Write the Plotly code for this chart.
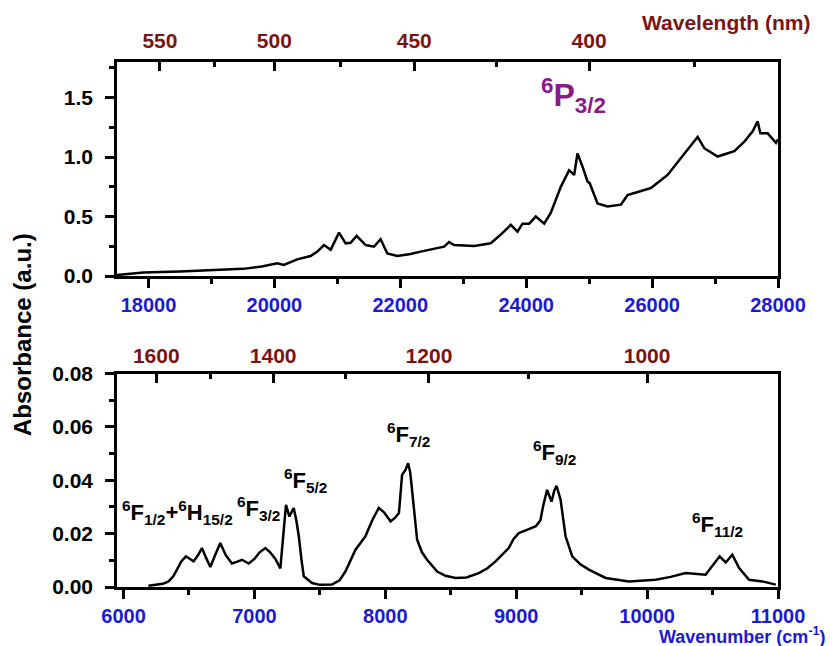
import plotly.graph_objects as go

# ---------------- data ----------------
# Top panel: UV-Vis region (wavenumber cm^-1, absorbance a.u.)
vis_wn = [17500, 17920, 18500, 19000, 19500, 19800, 20046, 20150, 20363, 20575, 20682,
          20788, 20894, 21026, 21132, 21211, 21307, 21450, 21582, 21688, 21794,
          21953, 22165, 22324, 22695, 22775, 22854, 23172, 23437, 23600, 23755,
          23862, 23941, 24047, 24153, 24286, 24390, 24550, 24682, 24762, 24815,
          24895, 24974, 25010, 25133, 25292, 25504, 25610, 25981, 26246, 26511,
          26723, 26829, 27041, 27306, 27465, 27600, 27677, 27720, 27836, 27968, 28000]
vis_abs = [0.008, 0.030, 0.038, 0.047, 0.060, 0.080, 0.107, 0.093, 0.140, 0.168, 0.205,
           0.260, 0.220, 0.365, 0.275, 0.280, 0.337, 0.260, 0.247, 0.310, 0.190,
           0.168, 0.185, 0.205, 0.247, 0.286, 0.260, 0.253, 0.275, 0.350, 0.430,
           0.373, 0.440, 0.440, 0.500, 0.440, 0.530, 0.750, 0.890, 0.850, 1.030,
           0.920, 0.795, 0.780, 0.610, 0.585, 0.600, 0.680, 0.740, 0.850, 1.030,
           1.170, 1.075, 1.005, 1.050, 1.130, 1.220, 1.300, 1.200, 1.200, 1.120, 1.150]

# Bottom panel: NIR region
nir_wn = [6190, 6250, 6300, 6344, 6380, 6408, 6440, 6476, 6505, 6535, 6570, 6599, 6630,
          6663, 6700, 6739, 6780, 6828, 6870, 6905, 6956, 7000, 7040, 7083, 7120, 7160,
          7198, 7220, 7241, 7267, 7300, 7320, 7339, 7360, 7377, 7440, 7500, 7593, 7650,
          7695, 7730, 7772, 7810, 7848, 7900, 7950, 7990, 8040, 8075, 8104, 8128, 8154,
          8174, 8190, 8204, 8225, 8243, 8280, 8319, 8396, 8460, 8536, 8620, 8714, 8780,
          8842, 8943, 8980, 9020, 9096, 9150, 9185, 9205, 9236, 9255, 9270, 9290, 9308,
          9339, 9360, 9377, 9428, 9490, 9555, 9683, 9861, 10065, 10180, 10294, 10447,
          10498, 10554, 10600, 10651, 10703, 10779, 10881, 10983]
nir_abs = [0.0005, 0.0009, 0.0012, 0.0021, 0.0040, 0.0065, 0.0095, 0.0115, 0.0105, 0.0096,
           0.0120, 0.0146, 0.0110, 0.0075, 0.0120, 0.0165, 0.0120, 0.0088, 0.0095, 0.0102,
           0.0088, 0.0105, 0.0130, 0.0146, 0.0130, 0.0105, 0.0070, 0.0200, 0.0308, 0.0264,
           0.0296, 0.0250, 0.0190, 0.0100, 0.0040, 0.0015, 0.0008, 0.0009, 0.0025, 0.0058,
           0.0095, 0.0140, 0.0165, 0.0190, 0.0250, 0.0296, 0.0280, 0.0246, 0.0260, 0.0277,
           0.0420, 0.0439, 0.0464, 0.0430, 0.0364, 0.0260, 0.0177, 0.0130, 0.0102, 0.0058,
           0.0042, 0.0034, 0.0036, 0.0052, 0.0070, 0.0096, 0.0146, 0.0180, 0.0202, 0.0217,
           0.0228, 0.0250, 0.0302, 0.0364, 0.0340, 0.0320, 0.0360, 0.0379, 0.0327, 0.0250,
           0.0190, 0.0115, 0.0085, 0.0065, 0.0034, 0.0021, 0.0027, 0.0038, 0.0052, 0.0046,
           0.0077, 0.0115, 0.0092, 0.0121, 0.0071, 0.0027, 0.0021, 0.0009]

# tick labels
top_wn_ticks = [18000, 20000, 22000, 24000, 26000, 28000]
bot_wn_ticks = [6000, 7000, 8000, 9000, 10000, 11000]
top_wl_major = [550, 500, 450, 400]
top_wl_minor = [525, 475, 425, 375]
bot_wl_major = [1600, 1400, 1200, 1000]
bot_wl_minor = [1500, 1300, 1100]
top_abs_ticks = [0, 0.5, 1.0, 1.5]
bot_abs_ticks = [0, 0.02, 0.04, 0.06, 0.08]

# band labels
vis_labels = [("<sup>6</sup>P<sub>3/2</sub>", 24752, 1.52)]
nir_labels = [("<sup>6</sup>F<sub>1/2</sub>+<sup>6</sup>H<sub>15/2</sub>", 6413, 0.0279),
              ("<sup>6</sup>F<sub>3/2</sub>", 7032, 0.0293),
              ("<sup>6</sup>F<sub>5/2</sub>", 7391, 0.0398),
              ("<sup>6</sup>F<sub>7/2</sub>", 8179, 0.0570),
              ("<sup>6</sup>F<sub>9/2</sub>", 9295, 0.0503),
              ("<sup>6</sup>F<sub>11/2</sub>", 10541, 0.0233)]

# ---------------- style ----------------
FONT = "Liberation Sans, Arial, sans-serif"
BLUE = "#1a1ad6"
DRED = "#7a1414"
PURPLE = "#8a1a8a"

top_range = [17500, 28000]
bot_range = [5950, 11000]

# page body has an 8px margin -> figure is offset by 8px
OFF = 8
W, H = 838 - OFF, 646 - OFF
L, T = 117 - OFF, 62 - OFF
R = W - (778 - OFF)
B = H - (587 - OFF)
pw, ph = W - L - R, H - T - B

def px(xp):
    return (xp - OFF - L) / pw

def py(yp):
    return (H - B - (yp - OFF)) / ph

fig = go.Figure()
fig.add_trace(go.Scatter(x=vis_wn, y=vis_abs, mode="lines",
                         line=dict(color="black", width=2.5), xaxis="x", yaxis="y",
                         showlegend=False))
fig.add_trace(go.Scatter(x=nir_wn, y=nir_abs, mode="lines",
                         line=dict(color="black", width=2.5), xaxis="x3", yaxis="y3",
                         showlegend=False))
# invisible traces so the wavelength axes are drawn
fig.add_trace(go.Scatter(x=[None], y=[None], xaxis="x2", yaxis="y", showlegend=False,
                         hoverinfo="skip"))
fig.add_trace(go.Scatter(x=[None], y=[None], xaxis="x4", yaxis="y3", showlegend=False,
                         hoverinfo="skip"))

tickfont_x = dict(family=FONT, size=20, color=BLUE, weight=700)
tickfont_y = dict(family=FONT, size=21, color="black", weight=700)
tickfont_wl = dict(family=FONT, size=21, color=DRED, weight=700)

common = dict(showline=True, linecolor="black", linewidth=2.5, showgrid=False,
              zeroline=False, ticks="outside", tickcolor="black", tickwidth=2.5,
              ticklen=9)

def minor_out(vals):
    return dict(tickvals=vals, ticklen=5, tickwidth=2.5, tickcolor="black", ticks="outside")

def minor_in(vals):
    return dict(tickvals=vals, ticklen=5, tickwidth=2.5, tickcolor="black", ticks="inside")

top_dom = [1 - (276 - 62) / ph, 1.0]
bot_dom = [0.0, (587 - 373.5) / ph]

fig.update_layout(
    width=W, height=H,
    margin=dict(l=L, r=R, t=T, b=B),
    paper_bgcolor="white", plot_bgcolor="white",
    xaxis=dict(**common, domain=[0, 1], anchor="y", range=top_range,
               tickvals=top_wn_ticks, ticktext=[str(v) for v in top_wn_ticks],
               minor=minor_out([19000, 21000, 23000, 25000, 27000]),
               tickfont=tickfont_x, mirror=True, ticklabelstandoff=0),
    xaxis2=dict(overlaying="x", side="top", anchor="y", range=top_range,
                showline=False, showgrid=False, zeroline=False,
                ticks="inside", tickcolor="black", tickwidth=2.5, ticklen=9,
                tickvals=[1e7 / w for w in top_wl_major],
                ticktext=[str(w) for w in top_wl_major],
                minor=minor_in([1e7 / w for w in top_wl_minor]),
                tickfont=tickfont_wl, ticklabelstandoff=9),
    yaxis=dict(**common, domain=top_dom, anchor="x", range=[0, 1.8],
               tickvals=top_abs_ticks, ticktext=["%.1f" % v for v in top_abs_ticks],
               minor=minor_out([0.25, 0.75, 1.25, 1.75]),
               tickfont=tickfont_y, mirror=True, ticklabelstandoff=8),
    xaxis3=dict(**common, domain=[0, 1], anchor="y3", range=bot_range,
                tickvals=bot_wn_ticks, ticktext=[str(v) for v in bot_wn_ticks],
                minor=minor_out([6500, 7500, 8500, 9500, 10500]),
                tickfont=tickfont_x, mirror=True, ticklabelstandoff=0),
    xaxis4=dict(overlaying="x3", side="top", anchor="y3", range=bot_range,
                showline=False, showgrid=False, zeroline=False,
                ticks="inside", tickcolor="black", tickwidth=2.5, ticklen=9,
                tickvals=[1e7 / w for w in bot_wl_major],
                ticktext=[str(w) for w in bot_wl_major],
                minor=minor_in([1e7 / w for w in bot_wl_minor]),
                tickfont=tickfont_wl, ticklabelstandoff=5),
    yaxis3=dict(**common, domain=bot_dom, anchor="x3", range=[0, 0.08],
                tickvals=bot_abs_ticks, ticktext=["%.2f" % v for v in bot_abs_ticks],
                minor=minor_out([0.01, 0.03, 0.05, 0.07]),
                tickfont=tickfont_y, mirror=True, ticklabelstandoff=8),
)

for txt, x, y in vis_labels:
    fig.add_annotation(x=x, y=y, xref="x", yref="y", text=txt, showarrow=False,
                       font=dict(family=FONT, size=32, color=PURPLE, weight=700))
for txt, x, y in nir_labels:
    fig.add_annotation(x=x, y=y, xref="x3", yref="y3", text=txt, showarrow=False,
                       font=dict(family=FONT, size=22, color="black", weight=700))

# axis titles
fig.add_annotation(x=px(22), y=py(335), xref="paper", yref="paper",
                   text="Absorbance (a.u.)", showarrow=False, textangle=-90,
                   xanchor="center", yanchor="middle",
                   font=dict(family=FONT, size=24, color="black", weight=700))
fig.add_annotation(x=px(726), y=py(22), xref="paper", yref="paper",
                   text="Wavelength (nm)", showarrow=False,
                   xanchor="center", yanchor="middle",
                   font=dict(family=FONT, size=21, color=DRED, weight=700))
fig.add_annotation(x=px(828), y=py(635), xref="paper", yref="paper",
                   text="Wavenumber (cm<sup>-1</sup>)", showarrow=False,
                   xanchor="right", yanchor="middle",
                   font=dict(family=FONT, size=18, color=BLUE, weight=700))

fig.write_html("out.html")
